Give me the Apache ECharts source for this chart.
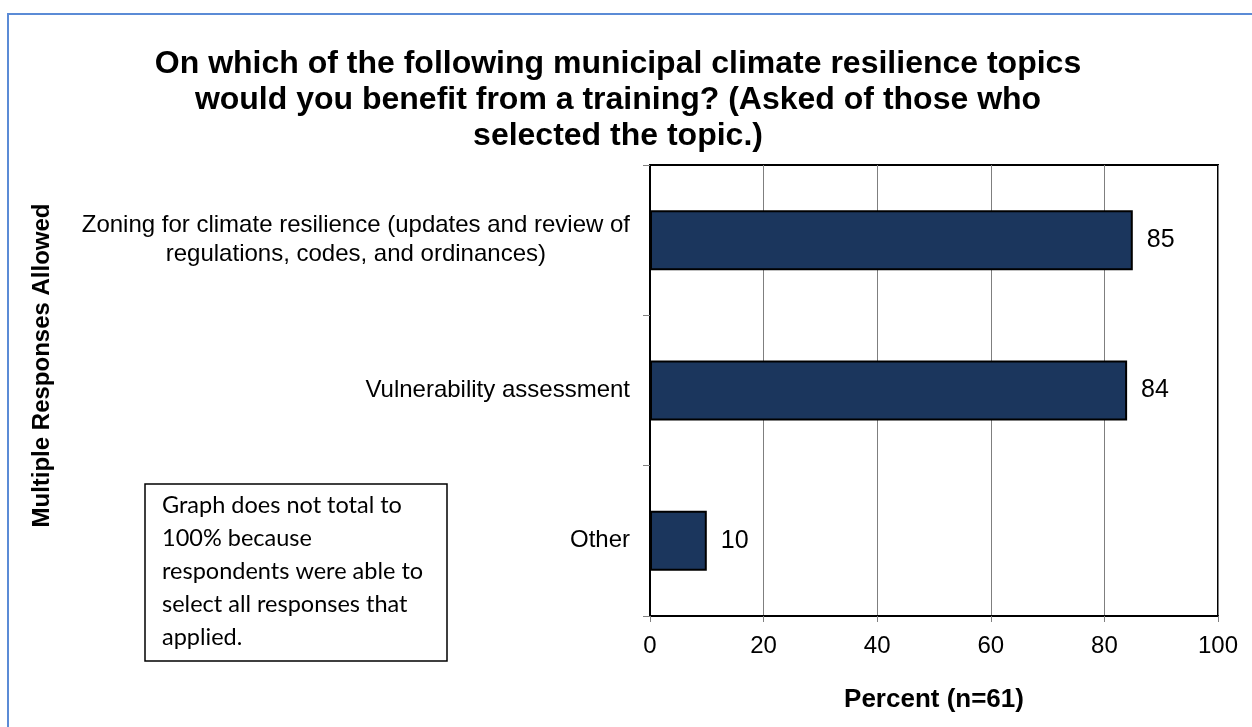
<!DOCTYPE html>
<html>
<head>
<meta charset="utf-8">
<script src="https://cdn.jsdelivr.net/npm/echarts@6/dist/echarts.min.js"></script>
<style>
html,body{margin:0;padding:0;background:#fff;}
#chart{width:1252px;height:727px;}
</style>
</head>
<body>
<div id="chart"></div>
<script>
const titleLines = [
  'On which of the following municipal climate resilience topics',
  'would you benefit from a training? (Asked of those who',
  'selected the topic.)'
];
const categories = [
  'Zoning for climate resilience (updates and review of\nregulations, codes, and ordinances)',
  'Vulnerability assessment',
  'Other'
];
const percentValues = [85, 84, 10];
const xTicks = { min: 0, max: 100, interval: 20 };
const xAxisTitle = 'Percent (n=61)';
const yAxisTitle = 'Multiple Responses Allowed';
const noteLines = [
  'Graph does not total to',
  '100% because',
  'respondents were able to',
  'select all responses that',
  'applied.'
];

const ARIAL = '"Liberation Sans", Arial, sans-serif';
const chart = echarts.init(document.getElementById('chart'), null, { renderer: 'canvas' });

chart.setOption({
  backgroundColor: '#ffffff',
  animation: false,
  grid: {
    left: 650, top: 165, right: 34, bottom: 111,
    show: true, borderColor: '#000', borderWidth: 2, backgroundColor: 'transparent'
  },
  xAxis: {
    type: 'value',
    min: xTicks.min, max: xTicks.max, interval: xTicks.interval,
    name: xAxisTitle,
    nameLocation: 'middle',
    nameGap: 71,
    nameTextStyle: { fontFamily: ARIAL, fontSize: 26, fontWeight: 'bold', color: '#000' },
    axisLine: { show: true, lineStyle: { color: '#000', width: 2 } },
    axisTick: { show: true, length: 6, lineStyle: { color: '#808080', width: 1 } },
    axisLabel: { fontFamily: ARIAL, fontSize: 24, color: '#000', margin: 18 },
    splitLine: { show: true, lineStyle: { color: '#7f7f7f', width: 1 } }
  },
  yAxis: {
    type: 'category',
    inverse: true,
    data: categories,
    name: yAxisTitle,
    nameLocation: 'middle',
    nameRotate: 90,
    nameGap: 596,
    nameTextStyle: {
      fontFamily: ARIAL, fontSize: 24, fontWeight: 'bold', color: '#000',
      padding: [0, 0, 0, 50]
    },
    axisLine: { show: true, lineStyle: { color: '#000', width: 2 } },
    axisTick: { show: true, length: 7, lineStyle: { color: '#808080', width: 1 } },
    axisLabel: {
      margin: 20,
      align: 'right',
      formatter: v => v.split('\n').map(l => '{c|' + l + '}').join('\n'),
      rich: { c: { fontFamily: ARIAL, fontSize: 24, lineHeight: 29, color: '#000', align: 'center' } }
    },
    splitLine: { show: false }
  },
  series: [{
    type: 'bar',
    data: percentValues,
    barWidth: 60,
    itemStyle: { color: '#1b365d', borderColor: '#000', borderWidth: 2 },
    label: {
      show: true, position: 'right', distance: 14,
      fontFamily: ARIAL, fontSize: 25, color: '#000'
    }
  }],
  graphic: [
    {
      type: 'rect', silent: true, z: 0,
      shape: { x: 8, y: 14, width: 1400, height: 1000 },
      style: { fill: 'none', stroke: '#5b8bd6', lineWidth: 2 }
    },
    {
      type: 'text', silent: true,
      x: 618, y: 46,
      style: {
        text: titleLines.join('\n'),
        textAlign: 'center', textVerticalAlign: 'top',
        fontFamily: ARIAL, fontSize: 32, fontWeight: 'bold', lineHeight: 36, fill: '#000'
      }
    },
    {
      type: 'rect', silent: true,
      shape: { x: 145, y: 484, width: 302, height: 177 },
      style: { fill: '#fff', stroke: '#000', lineWidth: 1.5 }
    },
    {
      type: 'text', silent: true,
      x: 162, y: 489,
      style: {
        text: noteLines.join('\n'),
        textAlign: 'left', textVerticalAlign: 'top',
        fontFamily: 'Lato, "Open Sans", sans-serif', fontSize: 23.5, lineHeight: 33, fill: '#000'
      }
    }
  ]
});
</script>
</body>
</html>
